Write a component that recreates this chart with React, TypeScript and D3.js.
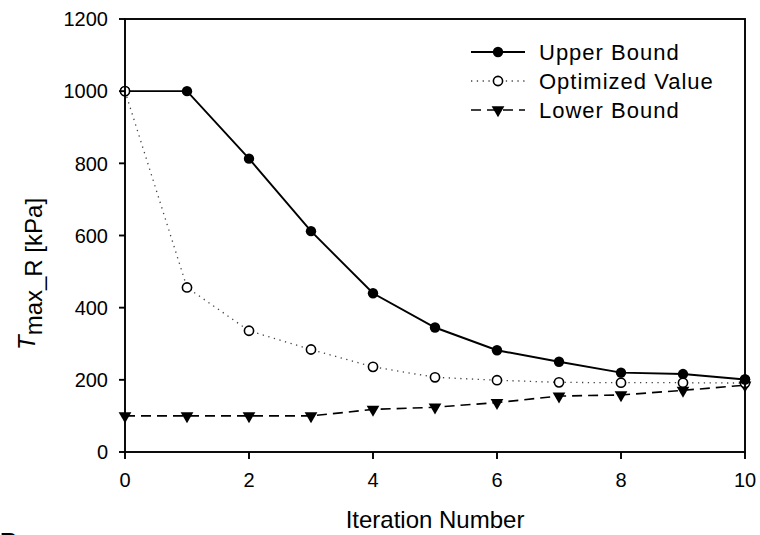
import React from "react";
import * as d3 from "d3";

const iterations = [0, 1, 2, 3, 4, 5, 6, 7, 8, 9, 10];
const upperBound = [1000, 1000, 813, 612, 440, 345, 282, 250, 220, 216, 201];
const optimizedValue = [1000, 456, 336, 284, 236, 207, 199, 193, 192, 192, 191];
const lowerBound = [100, 100, 100, 100, 118, 124, 137, 155, 158, 171, 185];

const xTicks = [0, 2, 4, 6, 8, 10];
const yTicks = [0, 200, 400, 600, 800, 1000, 1200];
const legendLabels = ["Upper Bound", "Optimized Value", "Lower Bound"];

const W = 760;
const H = 535;
const FONT = "'Liberation Sans', Arial, Helvetica, sans-serif";

export default function App() {
  const x = d3.scaleLinear().domain([0, 10]).range([125, 745]);
  const y = d3.scaleLinear().domain([0, 1200]).range([452, 19]);

  const line = d3
    .line<number>()
    .x((_, i) => x(iterations[i]))
    .y((d) => y(d));

  const tri = d3.symbol().type(d3.symbolTriangle).size(70)();

  const legendY = [52, 81, 110];
  const lx0 = 471;
  const lx1 = 525;
  const lmx = 498;

  return (
    <div>
      <style>{`body{margin:0;background:#fff}`}</style>
      <svg width={W} height={H} style={{ display: "block", overflow: "hidden" }} fontFamily={FONT}>
        <rect width={W} height={H} fill="#fff" />

        {/* series lines */}
        <path d={line(lowerBound) || ""} fill="none" stroke="#000" strokeWidth={1.6} strokeDasharray="10,6" />
        <path d={line(optimizedValue) || ""} fill="none" stroke="#444" strokeWidth={1.3} strokeDasharray="1.3,4.5" />
        <path d={line(upperBound) || ""} fill="none" stroke="#000" strokeWidth={1.9} />

        {/* markers */}
        {lowerBound.map((v, i) => (
          <path key={"l" + i} d={tri || ""} transform={`translate(${x(iterations[i])},${y(v)}) rotate(180)`} fill="#000" />
        ))}
        {upperBound.map((v, i) => (
          <circle key={"u" + i} cx={x(iterations[i])} cy={y(v)} r={5.2} fill="#000" />
        ))}
        {optimizedValue.map((v, i) => (
          <circle key={"o" + i} cx={x(iterations[i])} cy={y(v)} r={4.6} fill="#fff" stroke="#000" strokeWidth={1.6} />
        ))}
        {/* last upper point sits on top */}
        <circle cx={x(iterations[10])} cy={y(upperBound[10])} r={5.2} fill="#000" />

        {/* frame */}
        <rect x={x(0)} y={y(1200)} width={x(10) - x(0)} height={y(0) - y(1200)} fill="none" stroke="#000" strokeWidth={1.9} />

        {/* y axis */}
        {yTicks.map((t) => (
          <g key={"yt" + t}>
            <line x1={x(0) - 6} x2={x(0)} y1={y(t)} y2={y(t)} stroke="#000" strokeWidth={1.9} />
            <text x={108} y={y(t)} dy="0.36em" textAnchor="end" fontSize={20} fill="#000">
              {t}
            </text>
          </g>
        ))}

        {/* x axis */}
        {xTicks.map((t) => (
          <g key={"xt" + t}>
            <line x1={x(t)} x2={x(t)} y1={y(0)} y2={y(0) + 7} stroke="#000" strokeWidth={1.9} />
            <text x={x(t)} y={487} textAnchor="middle" fontSize={20} fill="#000">
              {t}
            </text>
          </g>
        ))}

        <text x={(x(0) + x(10)) / 2} y={528} textAnchor="middle" fontSize={24} fill="#000">
          Iteration Number
        </text>

        <text transform="translate(35,350) rotate(-90)" fontSize={24} fill="#000">
          <tspan fontStyle="italic">T</tspan>
          <tspan dy={7}>max_R [kPa]</tspan>
        </text>

        {/* legend */}
        <g>
          <line x1={lx0} x2={lx1} y1={legendY[0]} y2={legendY[0]} stroke="#000" strokeWidth={1.9} />
          <circle cx={lmx} cy={legendY[0]} r={5.2} fill="#000" />
          <line x1={lx0} x2={lx1} y1={legendY[1]} y2={legendY[1]} stroke="#444" strokeWidth={1.3} strokeDasharray="1.3,4.5" />
          <circle cx={lmx} cy={legendY[1]} r={4.6} fill="#fff" stroke="#000" strokeWidth={1.6} />
          <line x1={lx0} x2={lx1} y1={legendY[2]} y2={legendY[2]} stroke="#000" strokeWidth={1.6} strokeDasharray="10,6" />
          <path d={tri || ""} transform={`translate(${lmx},${legendY[2]}) rotate(180)`} fill="#000" />
          {legendLabels.map((s, i) => (
            <text key={s} x={539} y={legendY[i]} dy="0.36em" fontSize={22} letterSpacing={1} fill="#000">
              {s}
            </text>
          ))}
        </g>

        <text x={0} y={550} fontSize={24} fontWeight="bold" fill="#000">B</text>
      </svg>
    </div>
  );
}
